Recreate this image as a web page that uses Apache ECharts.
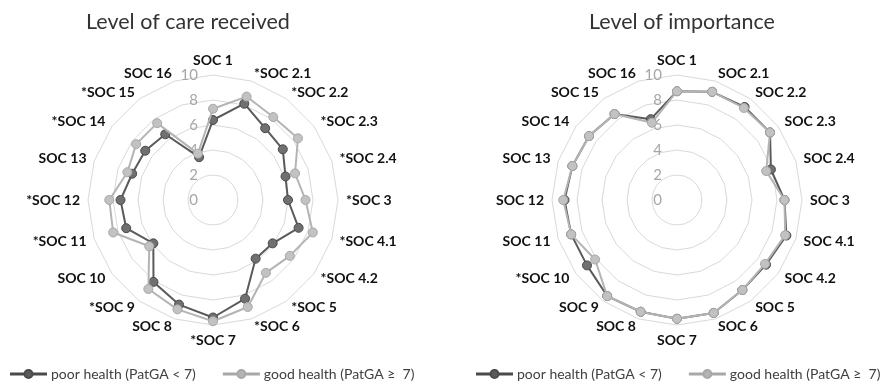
<!DOCTYPE html>
<html>
<head>
<meta charset="utf-8">
<style>
  html, body { margin: 0; padding: 0; background: #fff; }
  #chart { width: 888px; height: 384px; }
</style>
<script src="https://cdn.jsdelivr.net/npm/echarts@6/dist/echarts.min.js"></script>
</head>
<body>
<div id="chart"></div>
<script>
const categoriesCare = ['SOC 1','*SOC 2.1','*SOC 2.2','*SOC 2.3','*SOC 2.4','*SOC 3','*SOC 4.1','*SOC 4.2','*SOC 5','*SOC 6','*SOC 7','SOC 8','*SOC 9','SOC 10','*SOC 11','*SOC 12','SOC 13','*SOC 14','*SOC 15','SOC 16'];
const categoriesImportance = ['SOC 1','SOC 2.1','SOC 2.2','SOC 2.3','SOC 2.4','SOC 3','SOC 4.1','SOC 4.2','SOC 5','SOC 6','SOC 7','SOC 8','SOC 9','*SOC 10','SOC 11','SOC 12','SOC 13','SOC 14','SOC 15','SOC 16'];

const carePoor = [6.4, 8.1, 7.1, 6.9, 6.1, 6.0, 7.2, 5.9, 5.8, 8.3, 9.4, 8.8, 8.1, 5.9, 7.3, 7.4, 6.8, 6.7, 6.5, 3.6];
const careGood = [7.3, 8.7, 8.2, 8.4, 6.9, 7.4, 8.4, 7.6, 7.2, 9.0, 9.7, 9.2, 8.8, 6.3, 8.4, 8.3, 7.2, 7.6, 7.6, 3.9];
const importancePoor = [8.7, 9.1, 9.2, 9.2, 7.9, 8.6, 9.2, 8.8, 8.9, 9.5, 9.5, 9.4, 9.5, 8.9, 8.9, 9.0, 8.8, 8.7, 8.5, 6.8];
const importanceGood = [8.7, 9.1, 9.1, 9.2, 7.5, 8.6, 9.1, 8.7, 8.9, 9.5, 9.5, 9.4, 9.5, 8.1, 8.9, 9.1, 8.8, 8.7, 8.5, 6.5];

const titles = ['Level of care received', 'Level of importance'];
const seriesNames = ['poor health (PatGA < 7)', 'good health (PatGA \u2265  7)'];
const axisMax = 10;

const FONT = 'Lato, "Open Sans", sans-serif';
const poorLine = '#5a5a5a', poorFill = '#707070', poorBorder = '#4a4a4a';
const goodLine = '#b4b4b4', goodFill = '#c2c2c2', goodBorder = '#a8a8a8';

// ECharts radar runs counter-clockwise; reorder so categories run clockwise from the top
function clockwise(arr) {
  return [arr[0]].concat(arr.slice(1).reverse());
}

function indicators(cats) {
  return clockwise(cats).map((c, i) => {
    const o = { name: c, max: axisMax, min: 0 };
    if (i === 0) o.axisLabel = { show: true };
    return o;
  });
}

function radarCfg(cats, cx) {
  return {
    center: [cx, 200],
    radius: 125,
    startAngle: 90,
    splitNumber: 5,
    shape: 'polygon',
    indicator: indicators(cats),
    axisName: { color: '#111', fontWeight: 'bold', fontSize: 14, fontFamily: FONT },
    nameGap: 8,
    splitLine: { lineStyle: { color: '#d9d9d9', width: 1 } },
    splitArea: { show: false },
    axisLine: { show: false },
    axisTick: { show: false },
    axisLabel: { show: false, color: '#a6a6a6', fontSize: 15, fontFamily: FONT, margin: 15 }
  };
}

const legendIcon = 'path://M0,3.4 L13.2,3.4 L13.2,4.6 L0,4.6 Z M21.8,3.4 L35,3.4 L35,4.6 L21.8,4.6 Z M13.5,4 A4,4 0 1,1 21.5,4 A4,4 0 1,1 13.5,4 Z';

function legendCfg(left) {
  return {
    left: left, top: 364, width: 600, padding: [3, 5],
    itemWidth: 35, itemHeight: 8, itemGap: 27,
    icon: legendIcon,
    textStyle: { color: '#404040', fontSize: 14, fontFamily: FONT },
    data: [
      { name: seriesNames[0], itemStyle: { color: poorLine } },
      { name: seriesNames[1], itemStyle: { color: goodLine } }
    ]
  };
}

function series(radarIndex, values, idx) {
  const poor = idx === 0;
  return {
    type: 'radar',
    radarIndex: radarIndex,
    symbol: 'circle',
    symbolSize: 9,
    z: poor ? 2 : 3,
    lineStyle: { color: poor ? poorLine : goodLine, width: 2 },
    itemStyle: { color: poor ? poorFill : goodFill, borderColor: poor ? poorBorder : goodBorder, borderWidth: 1 },
    data: [{ name: seriesNames[idx], value: clockwise(values) }]
  };
}

const chart = echarts.init(document.getElementById('chart'), null, { renderer: 'canvas' });
chart.setOption({
  animation: false,
  backgroundColor: '#fff',
  title: [
    { text: titles[0], left: 183, top: 6, textAlign: 'center', textStyle: { color: '#333', fontSize: 21.5, fontWeight: 'normal', fontFamily: FONT } },
    { text: titles[1], left: 677, top: 6, textAlign: 'center', textStyle: { color: '#333', fontSize: 21.5, fontWeight: 'normal', fontFamily: FONT } }
  ],
  legend: [legendCfg(5), legendCfg(471)],
  radar: [radarCfg(categoriesCare, 213), radarCfg(categoriesImportance, 677)],
  series: [
    series(0, carePoor, 0),
    series(0, careGood, 1),
    series(1, importancePoor, 0),
    series(1, importanceGood, 1)
  ]
});
</script>
</body>
</html>
